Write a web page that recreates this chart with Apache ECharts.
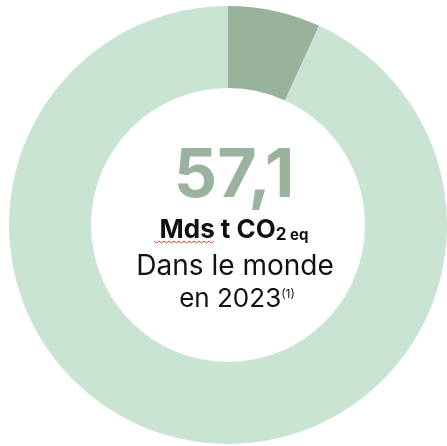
<!DOCTYPE html>
<html><head><meta charset="utf-8">
<script src="https://cdn.jsdelivr.net/npm/echarts@6/dist/echarts.min.js"></script>
<style>html,body{margin:0;padding:0;background:#fff}#c{width:447px;height:446px}</style>
</head><body><div id="c"></div>
<script>
var categories = ['Part mise en évidence', 'Reste du monde'];
var values = [3.9, 53.2];
var total = '57,1';
var colors = ['#98b29c', '#c9e4d3'];

var chart = echarts.init(document.getElementById('c'), null, {renderer: 'canvas'});
var zig = [];
for (var i = 0; i <= 24; i++) { zig.push([154 + i * 2.5, 241 + (i % 2 ? 2 : 0)]); }
chart.setOption({
  animation: false,
  series: [{
    type: 'pie',
    center: [228, 225],
    radius: [137, 219],
    startAngle: 90,
    clockwise: true,
    silent: true,
    label: {show: false},
    labelLine: {show: false},
    data: categories.map(function (c, i) { return {name: c, value: values[i], itemStyle: {color: colors[i]}}; })
  }],
  graphic: [
    {type: 'text', x: 234, y: 211, style: {text: total, font: 'bold 68px Inter', fill: '#9ab39e', textAlign: 'center', verticalAlign: 'bottom'}},
    {type: 'text', x: 234, y: 243, style: {
      text: '{a|Mds t CO}{b|2}{c| eq}', textAlign: 'center', verticalAlign: 'bottom',
      rich: {
        a: {font: 'bold 26px Inter', fill: '#111', verticalAlign: 'bottom'},
        b: {font: 'bold 17px Inter', fill: '#111', verticalAlign: 'bottom'},
        c: {font: 'bold 15px Inter', fill: '#111', verticalAlign: 'bottom'}
      }}},
    {type: 'polyline', shape: {points: zig}, style: {stroke: '#e23b3b', lineWidth: 1, fill: null}},
    {type: 'text', x: 235, y: 281, style: {text: 'Dans le monde', font: '28px Inter', fill: '#111', textAlign: 'center', verticalAlign: 'bottom'}},
    {type: 'text', x: 237, y: 312, style: {
      text: '{a|en 2023}{s|(1)}', textAlign: 'center', verticalAlign: 'bottom',
      rich: {a: {font: '26px Inter', fill: '#111', verticalAlign: 'bottom'}, s: {font: '12px Inter', fill: '#111', verticalAlign: 'top', padding: [2, 0, 0, 0]}}
    }}
  ]
});
</script></body></html>
